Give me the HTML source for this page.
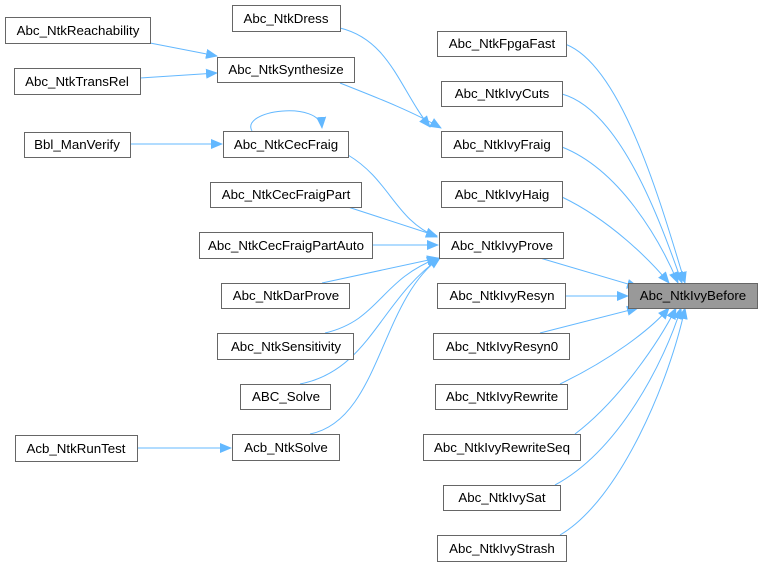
<!DOCTYPE html>
<html><head><style>body{margin:0;background:#fff}svg{display:block}text{font-family:"Liberation Sans",Arial,sans-serif;font-size:13.3px;fill:#000}</style></head><body>
<svg width="762" height="568" viewBox="0 0 762 568" xmlns="http://www.w3.org/2000/svg">
<defs><marker id="a" markerWidth="12" markerHeight="12" refX="11" refY="5.5" orient="auto" markerUnits="userSpaceOnUse"><path d="M0,0.5 L12,5.5 L0,10.5 z" fill="#63b8ff"/></marker></defs>
<g fill="none" stroke="#63b8ff" stroke-width="1" marker-end="url(#a)">
<path d="M150,43 L217,56"/>
<path d="M140,78 L217,73"/>
<path d="M130,144 L222,144"/>
<path d="M252,131 C240,110 320,100 322,128"/>
<path d="M340,28 C390,40 400,90 430,127"/>
<path d="M340,83 C370,95 410,110 441,128"/>
<path d="M348,155 C390,180 395,220 437,237"/>
<path d="M348,207 L437,236"/>
<path d="M372,245 L438,245"/>
<path d="M322,283 L438,258"/>
<path d="M325,333 C380,320 380,280 438,258"/>
<path d="M300,384 C370,370 380,300 440,258"/>
<path d="M310,434 C380,420 380,300 440,258"/>
<path d="M137,448 L231,448"/>
<path d="M562,43 C620,60 660,200 685,283"/>
<path d="M562,94 C620,110 660,220 682,283"/>
<path d="M562,147 C620,170 660,240 678,283"/>
<path d="M562,197 C610,220 650,260 669,283"/>
<path d="M540,258 L638,287"/>
<path d="M565,296 L628,296"/>
<path d="M540,333 L638,308"/>
<path d="M560,384 C610,360 650,330 669,308"/>
<path d="M575,434 C620,400 660,340 676,308"/>
<path d="M555,485 C620,450 665,360 681,308"/>
<path d="M560,535 C620,500 670,380 685,308"/>
</g>
<g fill="#fff" stroke="#666" stroke-width="1">
<rect x="5.5" y="17.5" width="145" height="26"/>
<rect x="14.5" y="68.5" width="126" height="26"/>
<rect x="24.5" y="132.5" width="106" height="25"/>
<rect x="15.5" y="435.5" width="122" height="26"/>
<rect x="232.5" y="5.5" width="108" height="26"/>
<rect x="217.5" y="57.5" width="137" height="25"/>
<rect x="223.5" y="131.5" width="125" height="26"/>
<rect x="210.5" y="182.5" width="151" height="25"/>
<rect x="199.5" y="232.5" width="173" height="26"/>
<rect x="221.5" y="283.5" width="128" height="25"/>
<rect x="217.5" y="333.5" width="136" height="26"/>
<rect x="240.5" y="384.5" width="90" height="25"/>
<rect x="232.5" y="434.5" width="107" height="26"/>
<rect x="437.5" y="31.5" width="129" height="25"/>
<rect x="441.5" y="81.5" width="121" height="25"/>
<rect x="441.5" y="131.5" width="121" height="26"/>
<rect x="441.5" y="181.5" width="121" height="26"/>
<rect x="439.5" y="232.5" width="124" height="26"/>
<rect x="437.5" y="283.5" width="128" height="25"/>
<rect x="433.5" y="333.5" width="136" height="26"/>
<rect x="435.5" y="384.5" width="132" height="25"/>
<rect x="423.5" y="434.5" width="157" height="26"/>
<rect x="443.5" y="485.5" width="117" height="25"/>
<rect x="437.5" y="535.5" width="129" height="26"/>
<rect x="628.5" y="283.5" width="129" height="25" fill="#999"/>
</g>
<g text-anchor="middle">
<text x="78" y="35">Abc_NtkReachability</text>
<text x="77" y="86">Abc_NtkTransRel</text>
<text x="77" y="149">Bbl_ManVerify</text>
<text x="76" y="453">Acb_NtkRunTest</text>
<text x="286" y="23">Abc_NtkDress</text>
<text x="286" y="74">Abc_NtkSynthesize</text>
<text x="286" y="149">Abc_NtkCecFraig</text>
<text x="286" y="199">Abc_NtkCecFraigPart</text>
<text x="286" y="250">Abc_NtkCecFraigPartAuto</text>
<text x="286" y="300">Abc_NtkDarProve</text>
<text x="286" y="351">Abc_NtkSensitivity</text>
<text x="286" y="401">ABC_Solve</text>
<text x="286" y="452">Acb_NtkSolve</text>
<text x="502" y="48">Abc_NtkFpgaFast</text>
<text x="502" y="98">Abc_NtkIvyCuts</text>
<text x="502" y="149">Abc_NtkIvyFraig</text>
<text x="502" y="199">Abc_NtkIvyHaig</text>
<text x="502" y="250">Abc_NtkIvyProve</text>
<text x="502" y="300">Abc_NtkIvyResyn</text>
<text x="502" y="351">Abc_NtkIvyResyn0</text>
<text x="502" y="401">Abc_NtkIvyRewrite</text>
<text x="502" y="452">Abc_NtkIvyRewriteSeq</text>
<text x="502" y="502">Abc_NtkIvySat</text>
<text x="502" y="553">Abc_NtkIvyStrash</text>
<text x="693" y="300">Abc_NtkIvyBefore</text>
</g>
</svg>
</body></html>
